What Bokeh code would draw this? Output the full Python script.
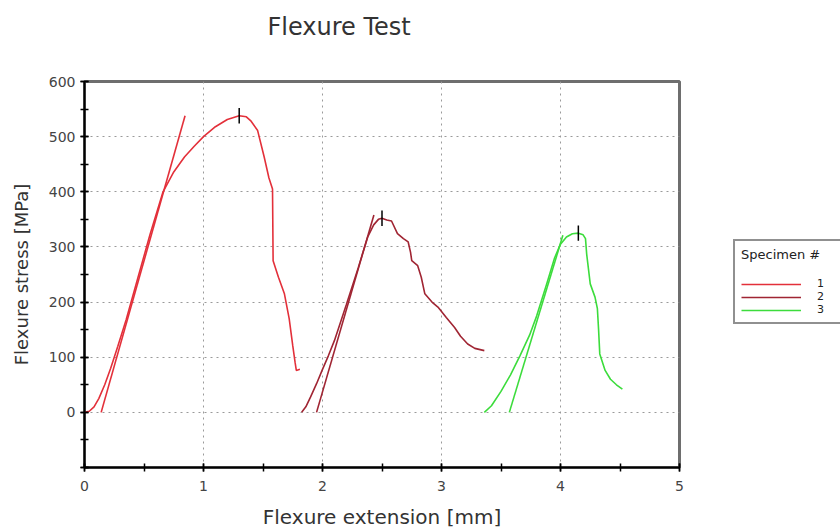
import numpy as np
from bokeh.plotting import figure
from bokeh.models import Range1d, Legend, LegendItem, SingleIntervalTicker, Title
from bokeh.embed import file_html
from bokeh.resources import INLINE

title_text = "Flexure Test"
x_label = "Flexure extension [mm]"
y_label = "Flexure stress [MPa]"
legend_title = "Specimen #"
specimen_names = ["1", "2", "3"]

# Specimen 1 curve
s1_x = [0, 0.04, 0.08, 0.12, 0.17, 0.22, 0.28, 0.35, 0.45, 0.55, 0.66, 0.75, 0.84, 0.92,
        1.0, 1.1, 1.2, 1.3, 1.36, 1.4, 1.455, 1.51, 1.55, 1.58, 1.585, 1.63, 1.68, 1.72,
        1.75, 1.77, 1.78, 1.81]
s1_y = [0, 2, 10, 25, 50, 80, 120, 168, 245, 322, 400, 436, 463, 482,
        500, 518, 531, 538, 536, 528, 511, 463, 425, 405, 275, 245, 215, 170,
        121, 90, 76, 78]
# Specimen 2 curve
s2_x = [1.825, 1.86, 1.9, 1.95, 2.0, 2.05, 2.1, 2.2, 2.3, 2.38, 2.43, 2.47, 2.5, 2.54,
        2.58, 2.63, 2.68, 2.72, 2.74, 2.75, 2.80, 2.83, 2.86, 2.92, 2.97, 3.04, 3.11,
        3.16, 3.22, 3.28, 3.36]
s2_y = [0, 10, 28, 52, 78, 103, 130, 195, 262, 318, 340, 350, 352, 349,
        347, 324, 315, 309, 290, 275, 266, 245, 215, 200, 191, 172, 154,
        138, 124, 116, 112]
# Specimen 3 curve
s3_x = [3.36, 3.42, 3.5, 3.58, 3.66, 3.74, 3.8, 3.88, 3.95, 4.0, 4.05, 4.1, 4.15, 4.19,
        4.21, 4.22, 4.25, 4.29, 4.31, 4.32, 4.33, 4.375, 4.42, 4.47, 4.52]
s3_y = [0, 12, 38, 68, 103, 140, 175, 230, 280, 305, 318, 324, 325, 322,
        315, 287, 233, 209, 188, 150, 106, 76, 60, 50, 42]

# Modulus (tangent) lines
t1_x = [0.14, 0.845]
t1_y = [0, 538]
t2_x = [1.95, 2.432]
t2_y = [0, 358]
t3_x = [3.57, 4.02]
t3_y = [0, 321]

colors = ["#e3303a", "#a02533", "#3cdc3c"]
curves = [(s1_x, s1_y), (s2_x, s2_y), (s3_x, s3_y)]
tangents = [(t1_x, t1_y), (t2_x, t2_y), (t3_x, t3_y)]

FONT = "DejaVu Sans"

p = figure(title=None, x_range=Range1d(0, 5), y_range=Range1d(-100, 600),
           output_backend="svg", toolbar_location=None,
           frame_width=595, frame_height=386,
           min_border_left=84, min_border_right=153, min_border_top=81, min_border_bottom=61,
           background_fill_color="white", border_fill_color="white")

p.outline_line_color = "#6e6e6e"
p.outline_line_width = 3

p.xaxis.ticker = SingleIntervalTicker(interval=1, num_minor_ticks=2)
p.yaxis.ticker = SingleIntervalTicker(interval=100, num_minor_ticks=2)
p.yaxis.major_label_overrides = {-100: ""}

for ax in (p.xaxis[0], p.yaxis[0]):
    ax.axis_line_color = "black"
    ax.axis_line_width = 2
    ax.major_tick_line_color = "black"
    ax.minor_tick_line_color = "black"
    ax.major_tick_line_width = 1.5
    ax.minor_tick_line_width = 1.5
    ax.major_tick_in = 4
    ax.major_tick_out = 4
    ax.minor_tick_in = 4
    ax.minor_tick_out = 4
    ax.major_label_text_font = FONT
    ax.major_label_text_font_size = "14px"
    ax.major_label_text_color = "#444444"
    ax.axis_label_text_font = FONT
    ax.axis_label_text_font_style = "normal"
    ax.axis_label_text_color = "#333333"

p.xaxis.axis_label = x_label
p.yaxis.axis_label = y_label
p.xaxis.axis_label_text_font_size = "20px"
p.yaxis.axis_label_text_font_size = "18px"
p.xaxis.major_label_standoff = 9
p.xaxis.axis_label_standoff = 11
p.yaxis.major_label_standoff = 5
p.yaxis.axis_label_standoff = 14

for g in (p.xgrid[0], p.ygrid[0]):
    g.grid_line_color = "#9a9a9a"
    g.grid_line_dash = "2 4"
    g.grid_line_width = 1

# spacer (nearest the frame) and the main title above it
spacer = Title(text=" ", text_font_size="1px", standoff=33)
main_title = Title(text=title_text, align="left", offset=183, text_font=FONT,
                   text_font_size="24px", text_font_style="normal", text_color="#333333",
                   standoff=10)
p.add_layout(spacer, "above")
p.add_layout(main_title, "above")

renderers = []
for (cx, cy), (tx, ty), col in zip(curves, tangents, colors):
    p.line(tx, ty, line_color=col, line_width=1.6)
    r = p.line(cx, cy, line_color=col, line_width=1.6)
    renderers.append(r)
    i = int(np.argmax(cy))
    p.segment(x0=[cx[i]], y0=[cy[i] - 14], x1=[cx[i]], y1=[cy[i] + 14],
              line_color="black", line_width=1.5)

legend = Legend(items=[LegendItem(label=n, renderers=[r]) for n, r in zip(specimen_names, renderers)],
                location=(54, 143), title=legend_title,
                title_text_font=FONT, title_text_font_size="13px", title_text_font_style="normal",
                title_text_color="#222222", title_standoff=15,
                label_text_font=FONT, label_text_font_size="11px", label_text_color="#222222",
                glyph_width=60, glyph_height=12, label_height=12, label_standoff=16,
                spacing=0, padding=6, margin=0,
                border_line_color="#222222", border_line_width=2,
                background_fill_color="white", background_fill_alpha=1)
p.add_layout(legend, "right")

open("out.html", "w").write(file_html(p, INLINE))
